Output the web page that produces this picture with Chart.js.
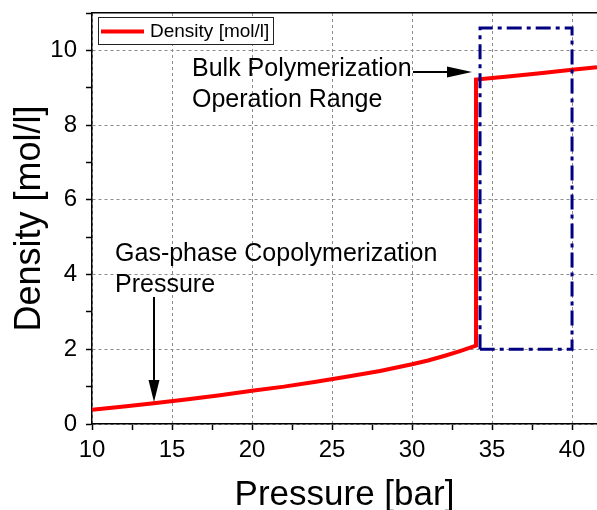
<!DOCTYPE html>
<html>
<head>
<meta charset="utf-8">
<script src="https://cdn.jsdelivr.net/npm/chart.js@4/dist/chart.umd.min.js"></script>
<style>
  html, body { margin: 0; padding: 0; background: #fff; overflow: hidden; }
  #wrap { width: 597px; height: 510px; position: relative; }
</style>
</head>
<body>
<div id="wrap"><canvas id="grafico"></canvas></div>
<script>
// curve
const pressure = [10, 12, 14, 16, 18, 20, 22, 24, 26, 28, 30, 31, 32, 33, 34, 34, 36, 38, 40, 41.56];
const density = [0.38, 0.47, 0.56, 0.66, 0.77, 0.89, 1.0, 1.13, 1.27, 1.42, 1.6, 1.7, 1.82, 1.95, 2.1, 9.22, 9.3, 9.39, 9.48, 9.55];

// bulk polymerization operation range (dash-dot box)
const boxPressure = [34.25, 34.25, 40, 40, 34.25];
const boxDensity = [2, 10.6, 10.6, 2, 2];

// ticks
const xTicks = [10, 12.5, 15, 17.5, 20, 22.5, 25, 27.5, 30, 32.5, 35, 37.5, 40];
const xLabels = [10, 15, 20, 25, 30, 35, 40];
const yTicks = [0, 1, 2, 3, 4, 5, 6, 7, 8, 9, 10, 11];
const yLabels = [0, 2, 4, 6, 8, 10];

const seriesLabel = 'Density [mol/l]';
const fonte = '"Liberation Sans", Arial, sans-serif';

const legendaBox = {
  id: 'legendaBox',
  afterDraw(chart) {
    const ctx = chart.ctx;
    ctx.save();
    ctx.fillStyle = '#fff';
    ctx.fillRect(98, 17, 175, 27);
    ctx.strokeStyle = '#222';
    ctx.lineWidth = 1;
    ctx.strokeRect(98.5, 17.5, 175, 27);
    ctx.strokeStyle = chart.data.datasets[0].borderColor;
    ctx.lineWidth = 4;
    ctx.beginPath();
    ctx.moveTo(101, 31.5);
    ctx.lineTo(144, 31.5);
    ctx.stroke();
    ctx.fillStyle = '#000';
    ctx.font = '19px ' + fonte;
    ctx.textBaseline = 'middle';
    ctx.fillText(chart.data.datasets[0].label, 150, 32);
    ctx.restore();
  }
};

function seta(ctx, x1, y1, x2, y2, comp, meia) {
  const ang = Math.atan2(y2 - y1, x2 - x1);
  const bx = x2 - comp * Math.cos(ang);
  const by = y2 - comp * Math.sin(ang);
  ctx.beginPath();
  ctx.moveTo(x1, y1);
  ctx.lineTo(bx, by);
  ctx.stroke();
  ctx.beginPath();
  ctx.moveTo(x2, y2);
  ctx.lineTo(bx + meia * Math.sin(ang), by - meia * Math.cos(ang));
  ctx.lineTo(bx - meia * Math.sin(ang), by + meia * Math.cos(ang));
  ctx.closePath();
  ctx.fill();
}

const anotacoes = {
  id: 'anotacoes',
  afterDatasetsDraw(chart) {
    const ctx = chart.ctx;
    const x = chart.scales.x, y = chart.scales.y;
    ctx.save();
    ctx.fillStyle = '#000';
    ctx.strokeStyle = '#000';
    ctx.font = '25px ' + fonte;
    ctx.textBaseline = 'alphabetic';
    ctx.fillText('Bulk Polymerization', x.getPixelForValue(16.25), y.getPixelForValue(9.31));
    ctx.fillText('Operation Range', x.getPixelForValue(16.25), y.getPixelForValue(8.48));
    ctx.fillText('Gas-phase Copolymerization', x.getPixelForValue(11.44), y.getPixelForValue(4.36));
    ctx.fillText('Pressure', x.getPixelForValue(11.44), y.getPixelForValue(3.53));
    ctx.lineWidth = 2;
    seta(ctx, x.getPixelForValue(30.06), y.getPixelForValue(9.42), x.getPixelForValue(33.75), y.getPixelForValue(9.42), 25, 5.5);
    seta(ctx, x.getPixelForValue(13.875), y.getPixelForValue(3.40), x.getPixelForValue(13.875), y.getPixelForValue(0.59), 22, 5.5);
    ctx.restore();
  }
};

const toPoints = (xs, ys) => xs.map((v, i) => ({ x: v, y: ys[i] }));

const semPadding = s => {
  s.paddingTop = 0;
  s.paddingBottom = 0;
  s.paddingLeft = 0;
  s.paddingRight = 0;
};

new Chart(document.getElementById('grafico'), {
  type: 'scatter',
  data: {
    datasets: [
      {
        label: seriesLabel,
        data: toPoints(pressure, density),
        showLine: true,
        borderColor: '#FF0000',
        backgroundColor: '#FF0000',
        borderWidth: 4,
        pointRadius: 0,
        tension: 0,
        order: 2
      },
      {
        label: 'range',
        data: toPoints(boxPressure, boxDensity),
        showLine: true,
        borderColor: '#000080',
        borderWidth: 3,
        borderDash: [15, 5, 4, 5],
        pointRadius: 0,
        tension: 0,
        order: 1
      }
    ]
  },
  options: {
    responsive: true,
    maintainAspectRatio: false,
    animation: false,
    layout: { padding: { left: 0, top: 13, right: 0, bottom: 0 } },
    plugins: { legend: { display: false }, tooltip: { enabled: false } },
    scales: {
      x: {
        type: 'linear',
        position: 'bottom',
        min: 10,
        max: 41.56,
        afterBuildTicks: s => { s.ticks = xTicks.map(v => ({ value: v })); },
        afterFit: s => { s.height = 86; semPadding(s); },
        ticks: {
          autoSkip: false,
          maxRotation: 0,
          padding: 6,
          color: '#000',
          font: { family: fonte, size: 24 },
          callback: v => xLabels.includes(v) ? String(v) : ''
        },
        grid: {
          color: c => xLabels.includes(c.tick && c.tick.value) ? '#8c8c8c' : 'rgba(0,0,0,0)',
          lineWidth: 1,
          tickColor: '#000',
          tickLength: 6,
          tickWidth: 1.5
        },
        border: { color: '#000', width: 1.5, dash: [3, 3] },
        title: {
          display: true,
          text: 'Pressure [bar]',
          color: '#000',
          font: { family: fonte, size: 35, lineHeight: 1 },
          padding: { top: 0, bottom: -3 }
        }
      },
      x2: {
        type: 'linear',
        axis: 'x',
        position: 'top',
        min: 10,
        max: 41.56,
        afterFit: s => { s.height = 0; semPadding(s); },
        ticks: { display: false },
        grid: { display: false, drawTicks: false },
        border: { display: true, color: '#000', width: 1.5 }
      },
      y: {
        type: 'linear',
        position: 'left',
        min: 0,
        max: 11,
        afterBuildTicks: s => { s.ticks = yTicks.map(v => ({ value: v })); },
        afterFit: s => { s.width = 92; semPadding(s); },
        ticks: {
          autoSkip: false,
          padding: 9,
          color: '#000',
          font: { family: fonte, size: 24 },
          callback: v => yLabels.includes(v) ? String(v) : ''
        },
        grid: {
          color: c => yLabels.includes(c.tick && c.tick.value) ? '#8c8c8c' : 'rgba(0,0,0,0)',
          lineWidth: 1,
          tickColor: '#000',
          tickLength: 6,
          tickWidth: 1.5
        },
        border: { color: '#000', width: 1.5, dash: [3, 3] },
        title: {
          display: true,
          text: 'Density [mol/l]',
          color: '#000',
          font: { family: fonte, size: 36, lineHeight: 1 },
          padding: { top: 12, bottom: 0 }
        }
      }
    }
  },
  plugins: [anotacoes, legendaBox]
});
</script>
</body>
</html>
